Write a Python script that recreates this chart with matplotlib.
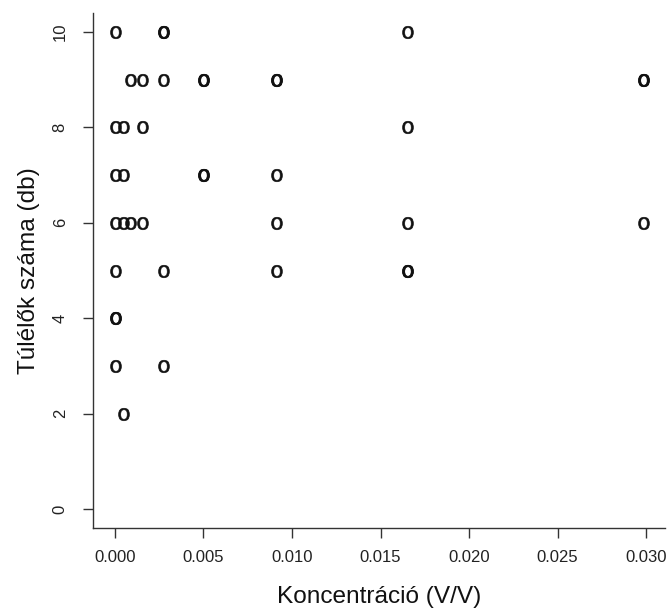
import numpy as np
import matplotlib
matplotlib.use("Agg")
import matplotlib.pyplot as plt
from matplotlib.textpath import TextPath
from matplotlib.font_manager import FontProperties
from matplotlib.path import Path
from matplotlib.markers import MarkerStyle

# Data: concentration (V/V) and number of survivors
concentration = [
    0.0, 0.0027, 0.0027, 0.0165,
    0.00083, 0.0015, 0.0027, 0.0050, 0.0050, 0.0091, 0.0091, 0.0298, 0.0298,
    0.0, 0.00046, 0.0015, 0.0165,
    0.0, 0.00046, 0.0050, 0.0050, 0.0091,
    0.0, 0.00046, 0.00083, 0.0015, 0.0091, 0.0165, 0.0298,
    0.0, 0.0027, 0.0091, 0.0165, 0.0165,
    0.0, 0.0,
    0.0, 0.0027,
    0.00046,
]
survivors = [
    10, 10, 10, 10,
    9, 9, 9, 9, 9, 9, 9, 9, 9,
    8, 8, 8, 8,
    7, 7, 7, 7, 7,
    6, 6, 6, 6, 6, 6, 6,
    5, 5, 5, 5, 5,
    4, 4,
    3, 3,
    2,
]
x_ticks = [0.000, 0.005, 0.010, 0.015, 0.020, 0.025, 0.030]
x_tick_labels = ["0.000", "0.005", "0.010", "0.015", "0.020", "0.025", "0.030"]
y_ticks = [0, 2, 4, 6, 8, 10]
x_label = "Koncentráció (V/V)"
y_label = "Túlélők száma (db)"

plt.rcParams['font.family'] = ['Liberation Sans', 'DejaVu Sans']

W, H = 667, 610
fig = plt.figure(figsize=(W / 100, H / 100), dpi=100)
left_px, right_px, top_px, bottom_px = 93, 665, 13, 528
ax = fig.add_axes([left_px / W, 1 - bottom_px / H,
                   (right_px - left_px) / W, (bottom_px - top_px) / H])

# letter "o" glyph as marker (centered)
tp = TextPath((0, 0), "o", size=1, prop=FontProperties(family="Liberation Sans"))
verts = tp.vertices.copy()
cx = (verts[:, 0].min() + verts[:, 0].max()) / 2
cy = (verts[:, 1].min() + verts[:, 1].max()) / 2
verts[:, 0] -= cx
verts[:, 1] -= cy
o_path = Path(verts, tp.codes)
o_marker = MarkerStyle(o_path)

ax.scatter(concentration, survivors, marker=o_marker, s=(12.5 * 0.72) ** 2,
           c="#111111", edgecolors="#111111", linewidths=0.45, zorder=3)

ax.set_xlim(-0.00124, 0.03107)
ax.set_ylim(-0.4, 10.4)

ax.spines['top'].set_visible(False)
ax.spines['right'].set_visible(False)
for s in ('left', 'bottom'):
    ax.spines[s].set_color("#333333")
    ax.spines[s].set_linewidth(1.0)

ax.set_xticks(x_ticks)
ax.set_xticklabels(x_tick_labels)
ax.set_yticks(y_ticks)
ax.set_yticklabels([str(v) for v in y_ticks], rotation=90, va='center')

ax.tick_params(axis='both', direction='out', length=7.2, width=1.0,
               color="#333333", labelsize=12, labelcolor="#222222")
ax.tick_params(axis='x', pad=9.0)
ax.tick_params(axis='y', pad=11.0)

ax.set_xlabel(x_label, fontsize=17.6, color="#111111", labelpad=15)
ax.set_ylabel(y_label, fontsize=17.6, color="#111111", labelpad=9)

fig.savefig("out.png", dpi=100)
